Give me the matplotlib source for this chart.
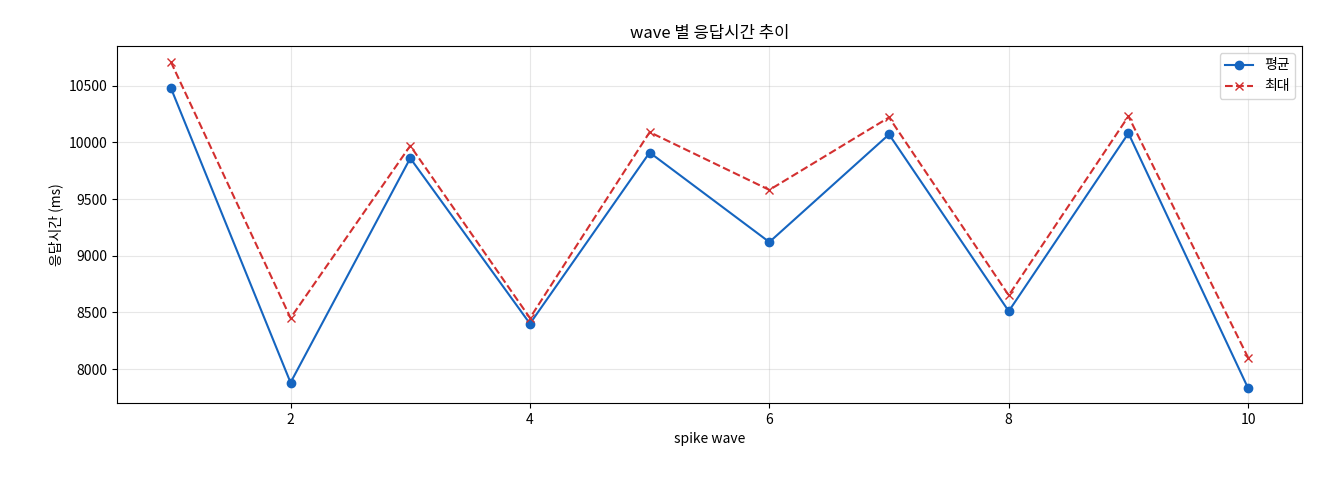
import matplotlib
matplotlib.use("Agg")
import matplotlib.pyplot as plt

plt.rcParams['font.family'] = ['Noto Sans CJK KR', 'DejaVu Sans']

waves = [1, 2, 3, 4, 5, 6, 7, 8, 9, 10]
avg = [10480, 7880, 9860, 8400, 9910, 9120, 10070, 8510, 10080, 7830]
mx = [10710, 8450, 9970, 8450, 10090, 9580, 10220, 8650, 10230, 8100]

fig = plt.figure(figsize=(13.2, 4.8), dpi=100)
ax = fig.add_axes([117/1320, 1-403/480, (1302-117)/1320, (403-46)/480])
ax.plot(waves, avg, marker='o', color='#1565c0', markersize=6, label='평균')
ax.plot(waves, mx, marker='x', linestyle='--', color='#d32f2f', markersize=6, label='최대')
ax.set_title('wave 별 응답시간 추이', fontsize=12)
ax.set_xlabel('spike wave', fontsize=10)
ax.set_ylabel('응답시간 (ms)', fontsize=10)
ax.grid(True, alpha=0.3)
ax.set_ylim(7700, 10850)
ax.legend(loc='upper right')
fig.savefig('out.png', dpi=100)
